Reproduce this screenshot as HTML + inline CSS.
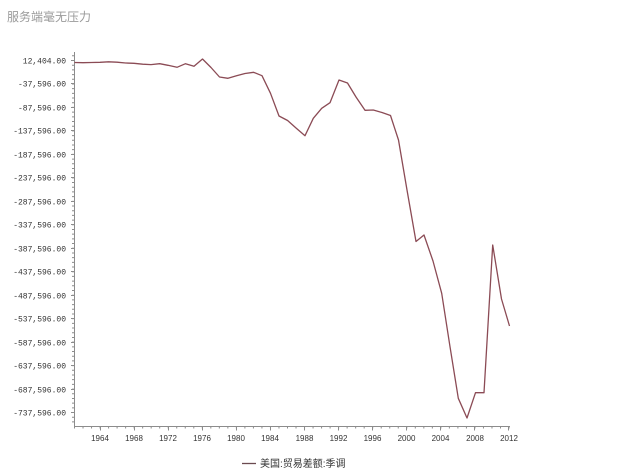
<!DOCTYPE html>
<html><head><meta charset="utf-8"><style>
html,body{margin:0;padding:0;background:#fff;}
body{width:619px;height:476px;overflow:hidden;position:relative;}
svg{position:absolute;left:0;top:0;}
</style></head><body>
<svg width="619" height="476" viewBox="0 0 619 476" xmlns="http://www.w3.org/2000/svg">
<text x="7" y="21" font-family="'Liberation Sans','Noto Sans CJK SC',sans-serif" font-size="12" fill="#9a9a9a">服务端毫无压力</text>
<g stroke="#8c8c8c" stroke-width="1" fill="none">
<line x1="74.5" y1="52" x2="74.5" y2="426.5"/>
<line x1="74" y1="426.5" x2="510" y2="426.5"/>
</g>
<!-- minor ticks -->
<line x1="73" y1="55.3" x2="73" y2="426" stroke="#8c8c8c" stroke-width="2" stroke-dasharray="1 3.694"/>
<line x1="74" y1="427.5" x2="511" y2="427.5" stroke="#8c8c8c" stroke-width="2" stroke-dasharray="1 7.52"/>
<!-- major y ticks -->
<path stroke="#8c8c8c" stroke-width="1" fill="none" d="M71 60.5H74.5M71 83.5H74.5M71 107.5H74.5M71 130.5H74.5M71 154.5H74.5M71 177.5H74.5M71 201.5H74.5M71 224.5H74.5M71 248.5H74.5M71 271.5H74.5M71 295.5H74.5M71 318.5H74.5M71 342.5H74.5M71 365.5H74.5M71 389.5H74.5M71 412.5H74.5"/>
<!-- major x ticks -->
<path stroke="#8c8c8c" stroke-width="1" fill="none" d="M100.5 426.5V430.5M134.5 426.5V430.5M168.5 426.5V430.5M202.5 426.5V430.5M236.5 426.5V430.5M270.5 426.5V430.5M304.5 426.5V430.5M338.5 426.5V430.5M372.5 426.5V430.5M406.5 426.5V430.5M440.5 426.5V430.5M474.5 426.5V430.5M508.5 426.5V430.5"/>
<g font-family="'Liberation Mono',monospace" font-size="8" fill="#333" text-anchor="end">
<text x="66" y="63.5">12,404.00</text>
<text x="66" y="86.5">-37,596.00</text>
<text x="66" y="110.5">-87,596.00</text>
<text x="66" y="133.5">-137,596.00</text>
<text x="66" y="157.5">-187,596.00</text>
<text x="66" y="180.5">-237,596.00</text>
<text x="66" y="204.5">-287,596.00</text>
<text x="66" y="227.5">-337,596.00</text>
<text x="66" y="251.5">-387,596.00</text>
<text x="66" y="274.5">-437,596.00</text>
<text x="66" y="298.5">-487,596.00</text>
<text x="66" y="321.5">-537,596.00</text>
<text x="66" y="345.5">-587,596.00</text>
<text x="66" y="368.5">-637,596.00</text>
<text x="66" y="392.5">-687,596.00</text>
<text x="66" y="415.5">-737,596.00</text>
</g>
<g font-family="'Liberation Sans',sans-serif" font-size="8" fill="#333" text-anchor="middle">
<text x="100" y="441">1964</text>
<text x="134" y="441">1968</text>
<text x="168" y="441">1972</text>
<text x="202" y="441">1976</text>
<text x="236" y="441">1980</text>
<text x="270" y="441">1984</text>
<text x="304.5" y="441">1988</text>
<text x="338.5" y="441">1992</text>
<text x="372.5" y="441">1996</text>
<text x="406.5" y="441">2000</text>
<text x="440.5" y="441">2004</text>
<text x="475" y="441">2008</text>
<text x="509" y="441">2012</text>
</g>
<polyline fill="none" stroke="#8b4b55" stroke-width="1.3" stroke-linejoin="round" points="74.5,62.5 83,62.7 91.5,62.5 100,62.3 108.5,61.8 117,62.2 125.6,63 134,63.3 142.7,64.2 151,64.6 159.7,63.7 168,65.3 177,67.3 185.5,63.7 194,66.3 202.5,59 211,67.5 219.5,77 228,78.3 236.5,75.8 245,73.5 253.6,72.3 262,75.7 270.5,93.3 279,116 287.6,120.5 296,128 305,135.7 313.3,118.3 321.7,108.3 330,102.7 339,80 347.5,83 356,97 365,110.3 373.3,110 382,112.5 390.5,115.5 398.5,140 407,190 416,241.5 424,235 433,261 441.7,293.3 450,346.7 458.3,398.3 467,418 475.5,392.7 484,392.7 492.7,245 501.5,299 509.5,326"/>
<line x1="242" y1="463.5" x2="256" y2="463.5" stroke="#6b4a50" stroke-width="1.3"/>
<text x="260" y="467" font-family="'Liberation Sans','Noto Sans CJK SC',sans-serif" font-size="10" fill="#333">美国:贸易差额:季调</text>
</svg>
</body></html>
